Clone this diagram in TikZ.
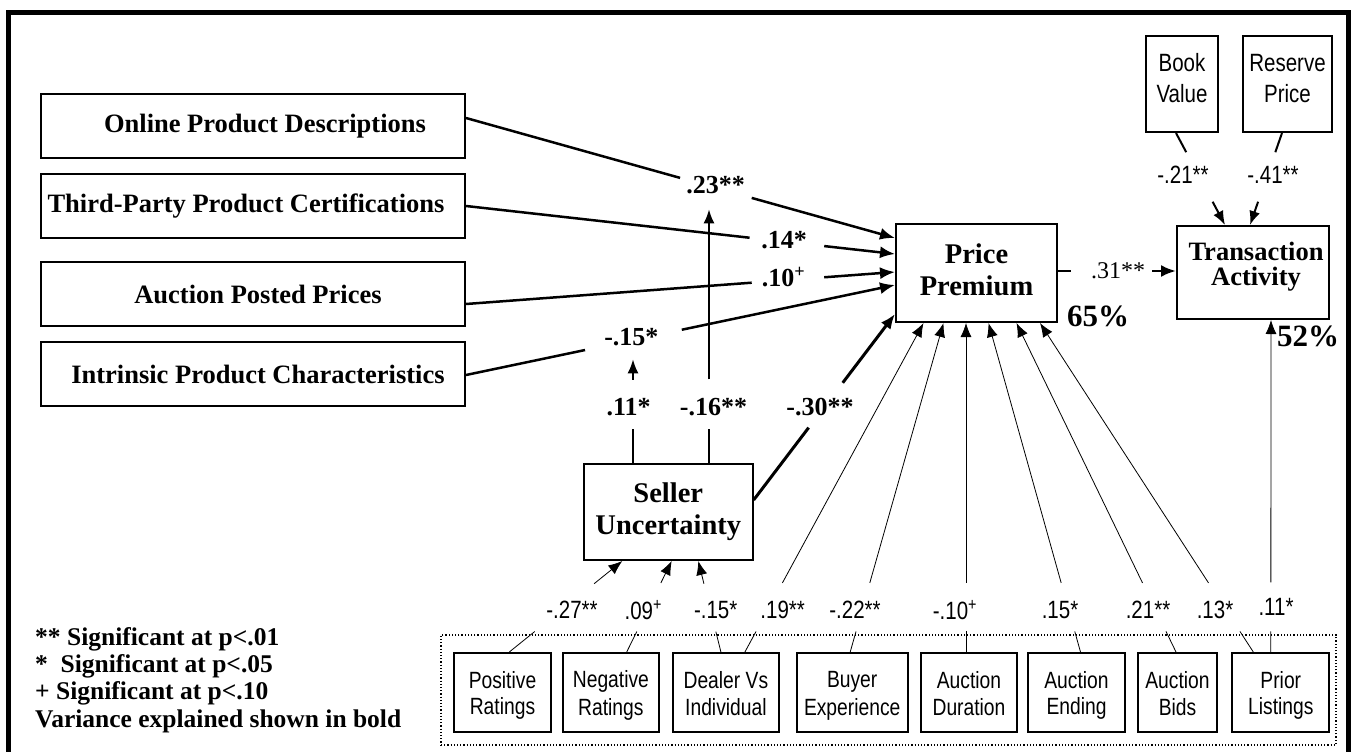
\documentclass[tikz,border=0pt]{standalone}
\usepackage{fontspec}
\setmainfont{Liberation Serif}
\newfontfamily\narrowfont[FakeStretch=0.82]{Liberation Sans}
\usetikzlibrary{arrows.meta,calc}
\newcommand{\gapconn}[6]{%
  \draw[#1] (#3) -- ($(#3)!#5!(#4)$);
  \draw[#2] ($(#3)!#6!(#4)$) -- (#4);}
\newcommand{\bst}{\rule[-4pt]{0pt}{26.7pt}}
\newcommand{\tst}{\rule[-12pt]{0pt}{30pt}}
\tikzset{
  leftbox/.style={draw, line width=2pt, inner sep=0pt, minimum width=424pt, minimum height=64pt,
    font=\fontsize{26.5}{30}\selectfont\bfseries},
  mainbox/.style={draw, line width=2pt, inner sep=0pt, align=center,
    font=\fontsize{28.5}{32.5}\selectfont\bfseries},
  smallbox/.style={draw, line width=2pt, inner sep=0pt, align=center,
    font=\fontsize{23.5}{26.7}\selectfont\narrowfont},
  topbox/.style={smallbox, minimum height=96pt, font=\fontsize{25}{30}\selectfont\narrowfont},
  blabel/.style={inner sep=0pt, font=\fontsize{26}{30}\selectfont\bfseries},
  nlabel/.style={inner sep=0pt, font=\fontsize{25}{30}\selectfont\narrowfont},
  pct/.style={inner sep=0pt, font=\fontsize{31}{34}\selectfont\bfseries},
  thickc/.style={line width=2.5pt},
  thicka/.style={line width=2.5pt, -{Latex[length=15pt,width=12pt]}},
  medc/.style={line width=2pt},
  meda/.style={line width=2pt, -{Latex[length=14pt,width=11pt]}},
  thinc/.style={line width=0.8pt},
  thina/.style={line width=0.8pt, -{Latex[length=14pt,width=11pt]}},
}
\begin{document}
\begin{tikzpicture}[x=1pt, y=-1pt]
\useasboundingbox (0,0) rectangle (1358,752);
% outer frame
\draw[line width=5pt] (8.5,752) -- (8.5,12.3) -- (1348.5,12.3) -- (1348.5,752);

% left boxes
\node[leftbox] (b1) at (253,126) {\hspace*{24pt}Online Product Descriptions};
\node[leftbox] (b2) at (253,206) {Third-Party Product Certifications\hspace*{14pt}};
\node[leftbox] (b3) at (253,294) {\hspace*{10pt}Auction Posted Prices};
\node[leftbox] (b4) at (253,374) {\hspace*{10pt}Intrinsic Product Characteristics};

% main boxes
\node[mainbox, minimum width=161pt, minimum height=98pt] (pp) at (976.5,273) {Price\\Premium\rule[-7pt]{0pt}{7pt}};
\node[mainbox, minimum width=152pt, minimum height=93pt, font=\fontsize{26.5}{25}\selectfont\bfseries] (ta) at (1253,272.5) {\hspace*{6pt}Transaction\\\hspace*{6pt}Activity\rule[-17pt]{0pt}{17pt}};
\node[mainbox, minimum width=168.7pt, minimum height=96pt, font=\fontsize{28.5}{31.7}\selectfont\bfseries] (su) at (668.3,512) {Seller\\Uncertainty};
\node[topbox, minimum width=72pt] (bv) at (1182,84) {\tst Book\\\tst Value};
\node[topbox, minimum width=89pt] (rp) at (1287.5,84) {\tst Reserve\\\tst Price};

% bottom group
\node[draw, dotted, line width=1.2pt, minimum width=895pt, minimum height=110pt, inner sep=0pt] (grp) at (888.5,690) {};
\node[smallbox, minimum width=97pt, minimum height=79pt] (pos) at (502.5,692.5) {\bst Positive\\\bst Ratings};
\node[smallbox, minimum width=96.3pt, minimum height=79pt] (neg) at (610.9,692.5) {\bst Negative\\\bst Ratings};
\node[smallbox, minimum width=106.3pt, minimum height=79pt] (deal) at (725.9,692.5) {\bst Dealer Vs\\\bst Individual};
\node[smallbox, minimum width=111pt, minimum height=79pt] (buy) at (852.2,692.5) {\bst Buyer\\\bst Experience};
\node[smallbox, minimum width=96.6pt, minimum height=79pt] (dur) at (969,692.5) {\bst Auction\\\bst Duration};
\node[smallbox, minimum width=97pt, minimum height=79pt] (endg) at (1076.5,692.5) {\bst Auction\\\bst Ending};
\node[smallbox, minimum width=79.6pt, minimum height=79pt] (bids) at (1177.5,692.5) {\bst Auction\\\bst Bids};
\node[smallbox, minimum width=97pt, minimum height=79pt] (pri) at (1280.8,692.5) {\bst Prior\\\bst Listings};

% bold labels
\node[blabel] (l23) at (715.6,185) {.23**};
\node[blabel] (l14) at (784,240) {.14*};
\node[blabel] (l10t) at (783.6,276.7) {.10\textsuperscript{+}};
\node[blabel] (l15) at (631.4,336.7) {-.15*};
\node[blabel] (l11) at (628.6,406.7) {.11*};
\node[blabel] (l16) at (713.5,406.7) {-.16**};
\node[blabel] (l30) at (820,406.7) {-.30**};
\node[inner sep=0pt, font=\fontsize{24}{28}\selectfont] (l31) at (1118,271) {.31**};
\node[pct] (p65) at (1098,316) {65\%};
\node[pct] (p52) at (1308,336) {52\%};

% narrow labels
\node[nlabel] (l21t) at (1183,175) {-.21**};
\node[nlabel] (l41t) at (1273,175) {-.41**};
\node[nlabel] (l27) at (572,610) {-.27**};
\node[nlabel] (l09) at (643.3,610) {.09\textsuperscript{+}};
\node[nlabel] (l15b) at (715.7,610) {-.15*};
\node[nlabel] (l19) at (782.7,610) {.19**};
\node[nlabel] (l22) at (855,610) {-.22**};
\node[nlabel] (l10b) at (955,610) {-.10\textsuperscript{+}};
\node[nlabel] (l15c) at (1060,610) {.15*};
\node[nlabel] (l21b) at (1148,610) {.21**};
\node[nlabel] (l13) at (1215,610) {.13*};
\node[nlabel] (l11b) at (1276,606.7) {.11*};

% legend
\node[anchor=west, align=left, inner sep=0pt, font=\fontsize{25.5}{27.2}\selectfont\bfseries] (legend) at (35,680)
  {** Significant at p<.01\\*\ \ Significant at p<.05\\+ Significant at p<.10\\Variance explained shown in bold};

% connectors to Price Premium
\coordinate (a1) at ($(b1.east)+(0,-8)$);   \coordinate (e1) at ($(pp.west)+(0,-35)$);
\gapconn{thickc}{thicka}{a1}{e1}{0.499}{0.666}
\coordinate (a2) at (b2.east);              \coordinate (e2) at ($(pp.west)+(0,-19)$);
\gapconn{thickc}{thicka}{a2}{e2}{0.661}{0.835}
\coordinate (a3) at ($(b3.east)+(0,10)$);   \coordinate (e3) at ($(pp.west)+(0,-1)$);
\gapconn{thickc}{thicka}{a3}{e3}{0.666}{0.835}
\coordinate (a4) at ($(b4.east)+(0,1)$);    \coordinate (e4) at ($(pp.west)+(0,12)$);
\gapconn{thickc}{thicka}{a4}{e4}{0.2775}{0.503}
\coordinate (a5) at ($(su.east)+(0,-12)$);  \coordinate (e5) at ($(pp.west)+(0,41)$);
\gapconn{line width=3pt}{line width=3pt, -{Latex[length=15pt,width=12pt]}}{a5}{e5}{0.389}{0.63}
% moderators from Seller Uncertainty
\coordinate (a6) at ($(su.north)+(-35.3,0)$); \coordinate (e6) at ($(l15.center)+(1.6,22.6)$);
\gapconn{medc}{meda}{a6}{e6}{0.325}{0.802}
\coordinate (a7) at ($(su.north)+(40.7,0)$);  \coordinate (e7) at ($(l23.center)+(-6.6,24.3)$);
\gapconn{medc}{meda}{a7}{e7}{0.1335}{0.33}
% price premium -> transaction activity
\coordinate (a8) at ($(pp.east)+(0,-2)$);   \coordinate (e8) at ($(ta.west)+(0,-1.5)$);
\gapconn{thickc}{thicka}{a8}{e8}{0.108}{0.8}
\coordinate (a9) at ($(bv.south)+(-6,0)$);  \coordinate (e9) at ($(ta.north)+(-28,0)$);
\gapconn{medc}{meda}{a9}{e9}{0.209}{0.747}
\coordinate (a10) at ($(rp.south)+(-5.5,0)$); \coordinate (e10) at ($(ta.north)+(-3,0)$);
\gapconn{medc}{meda}{a10}{e10}{0.209}{0.747}
% bottom controls
\coordinate (a11) at ($(pos.north)+(6.8,0)$);  \coordinate (e11) at ($(su.south)+(-46,0)$);
\gapconn{thinc}{thina}{a11}{e11}{0.225}{0.75}
\coordinate (a12) at ($(neg.north)+(15.8,0)$); \coordinate (e12) at ($(su.south)+(3.4,0)$);
\gapconn{thinc}{thina}{a12}{e12}{0.225}{0.758}
\coordinate (a13) at ($(deal.north)+(-5,0)$);  \coordinate (e13) at ($(su.south)+(30,0)$);
\gapconn{thinc}{thina}{a13}{e13}{0.223}{0.75}
\coordinate (a14) at ($(deal.north)+(19,0)$);  \coordinate (e14) at ($(pp.south)+(-53,0)$);
\gapconn{thinc}{thina}{a14}{e14}{0.0625}{0.21}
\coordinate (a15) at ($(buy.north)+(-2,0)$);   \coordinate (e15) at ($(pp.south)+(-33,0)$);
\gapconn{thinc}{thina}{a15}{e15}{0.0625}{0.21}
\coordinate (a16) at ($(dur.north)+(-3,0)$);   \coordinate (e16) at ($(pp.south)+(-10.5,0)$);
\gapconn{thinc}{thina}{a16}{e16}{0.0625}{0.21}
\coordinate (a17) at ($(endg.north)+(4,0)$);   \coordinate (e17) at ($(pp.south)+(12,0)$);
\gapconn{thinc}{thina}{a17}{e17}{0.0625}{0.21}
\coordinate (a18) at ($(bids.north)+(-1.5,0)$); \coordinate (e18) at ($(pp.south)+(40,0)$);
\gapconn{thinc}{thina}{a18}{e18}{0.0625}{0.21}
\coordinate (a19) at ($(pri.north)+(-27.5,0)$); \coordinate (e19) at ($(pp.south)+(63.5,0)$);
\gapconn{thinc}{thina}{a19}{e19}{0.0625}{0.21}
\coordinate (a20) at ($(pri.north)+(-10,0)$);  \coordinate (e20) at ($(ta.south)+(18,0)$);
\gapconn{thinc}{thina}{a20}{e20}{0.062}{0.21}
\end{tikzpicture}
\end{document}
